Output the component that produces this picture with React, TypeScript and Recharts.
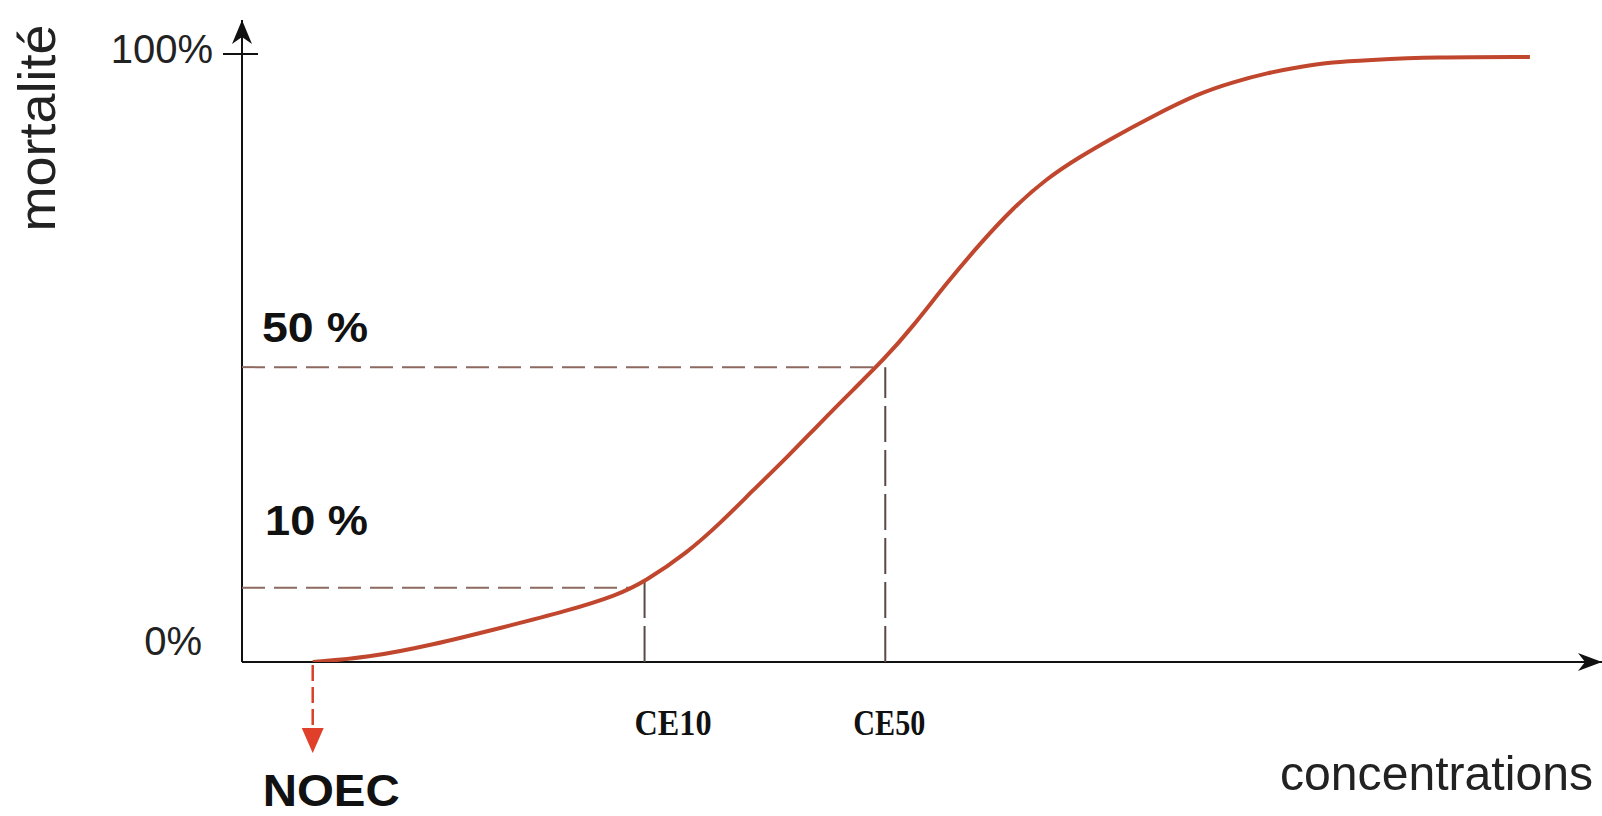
import { LineChart, Line, XAxis, YAxis, ReferenceLine, ReferenceDot } from 'recharts';

// dose-response curve (concentration in arbitrary units, mortality in %)
const concentration = [
  5.2, 9.2, 14.0, 19.0, 23.9, 27.6, 29.6, 32.7, 35.2, 37.6, 40.1, 42.5, 44.9, 47.3, 49.3,
  51.8, 54.3, 56.7, 59.2, 61.6, 64.0, 66.8, 70.4, 72.9, 75.4, 77.8, 80.2, 82.7, 87.6, 94.7,
];
const mortality = [
  0, 0.7, 2.8, 5.6, 8.4, 11.0, 13.2, 17.9, 22.9, 28.3, 33.7, 39.3, 44.7, 50.0, 55.1,
  62.3, 68.9, 74.7, 79.6, 83.1, 86.2, 89.6, 93.6, 95.4, 96.9, 97.9, 98.7, 99.0, 99.5, 99.5,
];

const yTicks = [0, 100];
const ceLabels = ['CE10', 'CE50'];
const ceValues = [29.6, 47.3];
const ceTops = [13.2, 48.5];
const levelLabels = ['10 %', '50 %'];
const levelValues = [12.2, 48.5];
const levelEnds = [28.8, 46.8];
const noec = 5.2;

const X_MAX = 100;
const Y_MAX = 105.6;

const data = concentration.map((c, i) => ({ c, m: mortality[i] }));

const SANS = '"Liberation Sans", Arial, sans-serif';
const SERIF = '"Liberation Serif", "Times New Roman", serif';
const CURVE = '#c0472e';
const AXIS = '#111';

// per-label tweaks for the CE tick texts
const ceShift = [-10, -32];
const ceWidth = [77, 72];

function PercentTick({ x, y, payload }: any) {
  const top = payload.value === 100;
  return (
    <g>
      {top && <line x1={x - 19} x2={x + 16} y1={y} y2={y} stroke={AXIS} strokeWidth={2} />}
      <text
        x={x - (top ? 29 : 40)}
        y={y + (top ? 9 : -7)}
        textAnchor="end"
        fontFamily={SANS}
        fontSize={40}
        fill="#222"
      >
        {payload.value}%
      </text>
    </g>
  );
}

function CeTick({ x, y, index }: any) {
  return (
    <text
      x={x + ceShift[index]}
      y={y + 73}
      fontFamily={SERIF}
      fontWeight="bold"
      fontSize={36}
      fill="#111"
      textLength={ceWidth[index]}
      lengthAdjust="spacingAndGlyphs"
    >
      {ceLabels[index]}
    </text>
  );
}

function ArrowRight({ cx, cy }: any) {
  return <path d={`M${cx},${cy} L${cx - 24},${cy - 9} L${cx - 17},${cy} L${cx - 24},${cy + 9} Z`} fill={AXIS} />;
}

function ArrowUp({ cx, cy }: any) {
  return <path d={`M${cx},${cy} L${cx - 10},${cy + 24} L${cx},${cy + 17} L${cx + 10},${cy + 24} Z`} fill={AXIS} />;
}

function NoecMarker({ cx, cy }: any) {
  return (
    <g>
      <line x1={cx} x2={cx} y1={cy + 3} y2={cy + 68} stroke="#d8402a" strokeWidth={2.5} strokeDasharray="16 6" />
      <path d={`M${cx - 11},${cy + 66} L${cx + 11},${cy + 66} L${cx},${cy + 91} Z`} fill="#e0402a" />
      <text
        x={cx - 50}
        y={cy + 144}
        fontFamily={SANS}
        fontWeight="bold"
        fontSize={44}
        fill="#111"
        textLength={137}
        lengthAdjust="spacingAndGlyphs"
      >
        NOEC
      </text>
    </g>
  );
}

export default function App() {
  return (
    <div style={{ position: 'absolute', left: 0, top: 0, width: 1602, height: 816, background: '#fff' }}>
      <LineChart width={1602} height={816} data={data} margin={{ top: 20, right: 0, bottom: 54, left: 142 }}>
        <XAxis
          type="number"
          dataKey="c"
          domain={[0, X_MAX]}
          ticks={ceValues}
          allowDataOverflow
          height={100}
          tickSize={0}
          tickMargin={0}
          tickLine={false}
          tick={<CeTick />}
          axisLine={false}
        />
        <YAxis
          type="number"
          domain={[0, Y_MAX]}
          ticks={yTicks}
          allowDataOverflow
          width={100}
          tickSize={0}
          tickMargin={0}
          tickLine={false}
          tick={<PercentTick />}
          axisLine={false}
        />

        {/* axes */}
        <ReferenceLine y={0} stroke={AXIS} strokeWidth={2} ifOverflow="visible" />
        <ReferenceLine x={0} stroke={AXIS} strokeWidth={2} ifOverflow="visible" />

        {/* dashed guides to CE10 / CE50 */}
        {levelValues.map((v, i) => (
          <ReferenceLine
            key={`h${i}`}
            segment={[{ x: 0, y: v }, { x: levelEnds[i], y: v }]}
            stroke="#8d6a60"
            strokeWidth={2}
            strokeDasharray="23 9"
          />
        ))}
        {ceValues.map((v, i) => (
          <ReferenceLine
            key={`v${i}`}
            segment={[{ x: v, y: 0 }, { x: v, y: ceTops[i] }]}
            stroke="#5a4a45"
            strokeWidth={2}
            strokeDasharray="36 8"
          />
        ))}

        <Line
          type="basis"
          dataKey="m"
          stroke={CURVE}
          strokeWidth={4}
          dot={false}
          isAnimationActive={false}
        />

        <ReferenceDot x={X_MAX} y={0} r={0} ifOverflow="visible" shape={<ArrowRight />} />
        <ReferenceDot x={0} y={Y_MAX} r={0} ifOverflow="visible" shape={<ArrowUp />} />
        <ReferenceDot x={noec} y={0} r={0} ifOverflow="visible" shape={<NoecMarker />} />

        {/* level labels */}
        <text x={262} y={342} fontFamily={SANS} fontWeight="bold" fontSize={42} fill="#111" textLength={106} lengthAdjust="spacingAndGlyphs">
          {levelLabels[1]}
        </text>
        <text x={265} y={535} fontFamily={SANS} fontWeight="bold" fontSize={42} fill="#111" textLength={103} lengthAdjust="spacingAndGlyphs">
          {levelLabels[0]}
        </text>

        {/* axis titles */}
        <text
          x={55}
          y={128}
          transform="rotate(-90, 55, 128)"
          textAnchor="middle"
          fontFamily={SANS}
          fontSize={52}
          fill="#222"
          textLength={207}
          lengthAdjust="spacingAndGlyphs"
        >
          mortalité
        </text>
        <text x={1280} y={790} fontFamily={SANS} fontSize={48} fill="#222" textLength={313} lengthAdjust="spacingAndGlyphs">
          concentrations
        </text>
      </LineChart>
    </div>
  );
}
